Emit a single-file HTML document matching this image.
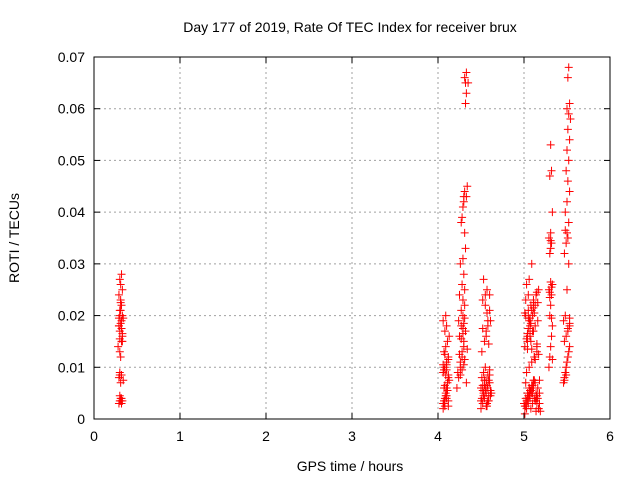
<!DOCTYPE html>
<html><head><meta charset="utf-8"><style>
body{margin:0;background:#fff;}
svg{display:block;font-family:"Liberation Sans",sans-serif;}
</style></head><body>
<svg id="chart" width="640" height="480">
<text x="350" y="32" font-size="14" text-anchor="middle">Day 177 of 2019, Rate Of TEC Index for receiver brux</text>
<text x="350" y="471" font-size="14" text-anchor="middle">GPS time / hours</text>
<text transform="translate(19,238) rotate(-90)" font-size="14" text-anchor="middle">ROTI / TECUs</text>
<g id="grid"></g><g id="pts"></g><g id="axes"></g>
</svg>
<script>
const xTicks=[0,1,2,3,4,5,6];
const yTicks=[0,0.01,0.02,0.03,0.04,0.05,0.06,0.07];
const yTickLabels=["0","0.01","0.02","0.03","0.04","0.05","0.06","0.07"];
const times=[
0.29,0.30,0.31,0.32,0.30,0.33,0.31,0.29,0.32,0.30,0.34,0.31,0.30,0.28,0.32,0.33,0.30,0.29,0.31,0.32,0.34,0.33,0.30,0.32,0.31,0.29,0.33,0.31,0.30,0.32,0.31,0.29,0.33,0.30,0.32,0.31,0.29,0.30,0.32,0.30,0.31,0.33,
4.06,4.07,4.08,4.09,4.10,4.11,4.12,4.06,4.08,4.10,4.12,4.07,4.09,4.11,4.13,4.08,4.10,4.06,4.09,4.12,4.07,4.10,4.11,4.08,4.13,4.09,4.07,4.10,4.12,4.08,4.06,4.08,4.10,4.12,4.07,4.09,4.11,4.06,4.10,4.12,
4.22,4.24,4.26,4.28,4.30,4.25,4.27,4.29,4.31,4.23,4.26,4.28,4.30,4.32,4.24,4.27,4.29,4.31,4.33,4.25,4.28,4.30,4.26,4.29,4.32,4.31,4.28,4.27,4.30,4.33,4.34,4.29,4.31,4.30,4.32,4.33,4.32,4.31,4.33,4.35,4.30,4.34,4.29,4.31,4.25,4.27,4.29,4.31,4.26,4.28,4.30,
4.50,4.52,4.54,4.56,4.58,4.60,4.51,4.53,4.55,4.57,4.59,4.61,4.52,4.54,4.56,4.58,4.60,4.50,4.53,4.55,4.57,4.59,4.51,4.54,4.56,4.58,4.60,4.52,4.55,4.57,4.53,4.58,4.55,4.60,4.61,4.56,4.59,4.52,4.57,4.51,4.53,4.55,4.57,4.59,4.61,4.52,4.54,4.56,4.58,4.60,4.50,4.62,
5.01,5.03,5.05,5.07,5.09,5.11,5.13,5.15,5.17,5.02,5.04,5.06,5.08,5.10,5.12,5.14,5.16,5.18,5.03,5.06,5.09,5.12,5.15,5.01,5.04,5.07,5.10,5.13,5.16,5.02,5.05,5.08,5.11,5.14,5.17,5.03,5.06,5.09,5.12,5.15,5.04,5.07,5.10,5.13,5.05,5.08,5.11,5.06,5.09,5.02,5.04,5.07,5.05,
5.00,5.02,5.04,5.06,5.08,5.10,5.12,5.14,5.16,5.18,5.01,5.03,5.05,5.07,5.09,5.11,5.13,5.15,5.17,5.19,5.02,5.06,5.10,5.14,5.18,5.04,5.08,5.12,5.16,5.03,5.07,5.11,5.15,5.05,5.09,5.13,5.17,5.01,5.11,5.15,
5.29,5.30,5.31,5.32,5.33,5.30,5.31,5.32,5.29,5.33,5.30,5.31,5.32,5.29,5.31,5.33,5.30,5.32,5.31,5.30,5.32,5.31,5.30,5.32,5.31,5.33,
5.46,5.47,5.48,5.49,5.50,5.51,5.52,5.53,5.47,5.49,5.51,5.53,5.46,5.48,5.50,5.52,5.47,5.49,5.51,5.50,5.52,5.48,5.50,5.53,5.51,5.49,5.52,5.50,5.53,5.51,5.54,5.52,5.50,5.53,5.51,5.52,5.53,5.47,5.49,5.51,5.53,5.48
];
const roti=[
0.003,0.0035,0.004,0.003,0.0045,0.0035,0.007,0.008,0.0085,0.009,0.0075,0.012,0.013,0.014,0.015,0.016,0.017,0.018,0.0185,0.019,0.0195,0.02,0.021,0.022,0.023,0.024,0.025,0.026,0.027,0.028,0.021,0.018,0.015,0.02,0.0175,0.0225,0.0195,0.0155,0.004,0.0085,0.0035,0.0165,
0.002,0.003,0.004,0.005,0.006,0.007,0.008,0.009,0.010,0.011,0.012,0.013,0.014,0.015,0.016,0.017,0.018,0.019,0.020,0.0025,0.0035,0.0045,0.0055,0.0065,0.0075,0.0085,0.0095,0.0105,0.0115,0.0125,0.003,0.0025,0.004,0.0035,0.006,0.0045,0.0055,0.0105,0.0095,0.0085,
0.006,0.008,0.010,0.012,0.014,0.016,0.018,0.020,0.022,0.009,0.011,0.013,0.015,0.017,0.019,0.021,0.023,0.025,0.007,0.024,0.026,0.028,0.030,0.031,0.033,0.036,0.039,0.038,0.042,0.043,0.045,0.041,0.044,0.043,0.061,0.063,0.065,0.066,0.067,0.065,0.0185,0.0135,0.0165,0.0195,0.0125,0.0155,0.0175,0.0115,0.0085,0.0095,0.0105,
0.002,0.003,0.004,0.005,0.006,0.007,0.008,0.009,0.010,0.0025,0.0035,0.0045,0.0055,0.0065,0.0075,0.0085,0.0095,0.0035,0.0045,0.0055,0.0065,0.0075,0.013,0.015,0.017,0.019,0.021,0.023,0.024,0.025,0.027,0.018,0.022,0.024,0.019,0.016,0.0145,0.0175,0.0205,0.004,0.005,0.006,0.003,0.0045,0.0055,0.0065,0.0075,0.0025,0.0035,0.0085,0.006,0.005,
0.001,0.002,0.003,0.004,0.005,0.006,0.007,0.003,0.002,0.0025,0.0035,0.0045,0.0055,0.0065,0.0075,0.0015,0.004,0.005,0.009,0.010,0.011,0.012,0.013,0.014,0.015,0.016,0.017,0.018,0.019,0.020,0.021,0.022,0.023,0.024,0.025,0.026,0.027,0.030,0.012,0.014,0.016,0.018,0.020,0.022,0.024,0.015,0.017,0.019,0.021,0.023,0.0135,0.0165,0.0195,
0.003,0.004,0.005,0.006,0.002,0.003,0.004,0.005,0.006,0.003,0.0025,0.0035,0.0045,0.0055,0.0065,0.0075,0.0035,0.0045,0.002,0.0015,0.007,0.006,0.005,0.004,0.0075,0.0165,0.0185,0.0205,0.0225,0.0155,0.0195,0.0215,0.0245,0.0175,0.0135,0.0115,0.0125,0.0205,0.0225,0.0145,
0.010,0.012,0.014,0.016,0.018,0.020,0.022,0.024,0.025,0.026,0.032,0.033,0.034,0.035,0.036,0.040,0.047,0.048,0.053,0.0245,0.0195,0.0265,0.0235,0.0255,0.0345,0.0115,
0.007,0.008,0.009,0.010,0.011,0.012,0.013,0.014,0.015,0.016,0.017,0.018,0.019,0.020,0.025,0.030,0.032,0.034,0.035,0.036,0.038,0.040,0.042,0.044,0.046,0.048,0.050,0.052,0.054,0.056,0.058,0.059,0.060,0.061,0.066,0.068,0.0195,0.0075,0.0085,0.0175,0.0185,0.0365
];
const NS='http://www.w3.org/2000/svg';
const L=94,R=610,T=57,B=419;
function xs(v){return L+(v-0)/(6-0)*(R-L);}
function ys(v){return B-(v-0)/(0.07-0)*(B-T);}
function mk(tag,attrs,parent){const e=document.createElementNS(NS,tag);for(const k in attrs)e.setAttribute(k,attrs[k]);parent.appendChild(e);return e;}
const grid=document.getElementById('grid'),axes=document.getElementById('axes'),pts=document.getElementById('pts');
xTicks.forEach((t,i)=>{const x=xs(t);
 if(i>0&&i<xTicks.length-1){const g=mk('line',{x1:x,x2:x,y1:T,y2:B,stroke:'#a0a0a0','stroke-dasharray':'2,3'},grid);
 
 }
 mk('line',{x1:x,x2:x,y1:B,y2:B-6,stroke:'#000'},axes);
 mk('line',{x1:x,x2:x,y1:T,y2:T+6,stroke:'#000'},axes);
 const tx=mk('text',{x:x,y:B+22,'font-size':14,'text-anchor':'middle'},axes);tx.textContent=t;
 
 
});
yTicks.forEach((t,i)=>{const y=ys(t);
 if(i>0&&i<yTicks.length-1){const g=mk('line',{x1:L,x2:R,y1:y,y2:y,stroke:'#a0a0a0','stroke-dasharray':'2,3'},grid);
 
 }
 mk('line',{x1:L,x2:L+6,y1:y,y2:y,stroke:'#000'},axes);
 mk('line',{x1:R,x2:R-6,y1:y,y2:y,stroke:'#000'},axes);
 const tx=mk('text',{x:L-9,y:y+5,'font-size':14,'text-anchor':'end'},axes);tx.textContent=yTickLabels[i];
 
 
});
const frame=mk('rect',{x:L,y:T,width:R-L,height:B-T,fill:'none',stroke:'#000'},axes);


times.forEach((t,i)=>{const x=xs(t),y=ys(roti[i]);
 const p=mk('path',{d:`M${x-4},${y}H${x+4}M${x},${y-4}V${y+4}`,stroke:'#ff0000','stroke-width':1,fill:'none'},pts);
 
 
});
</script>
</body></html>
